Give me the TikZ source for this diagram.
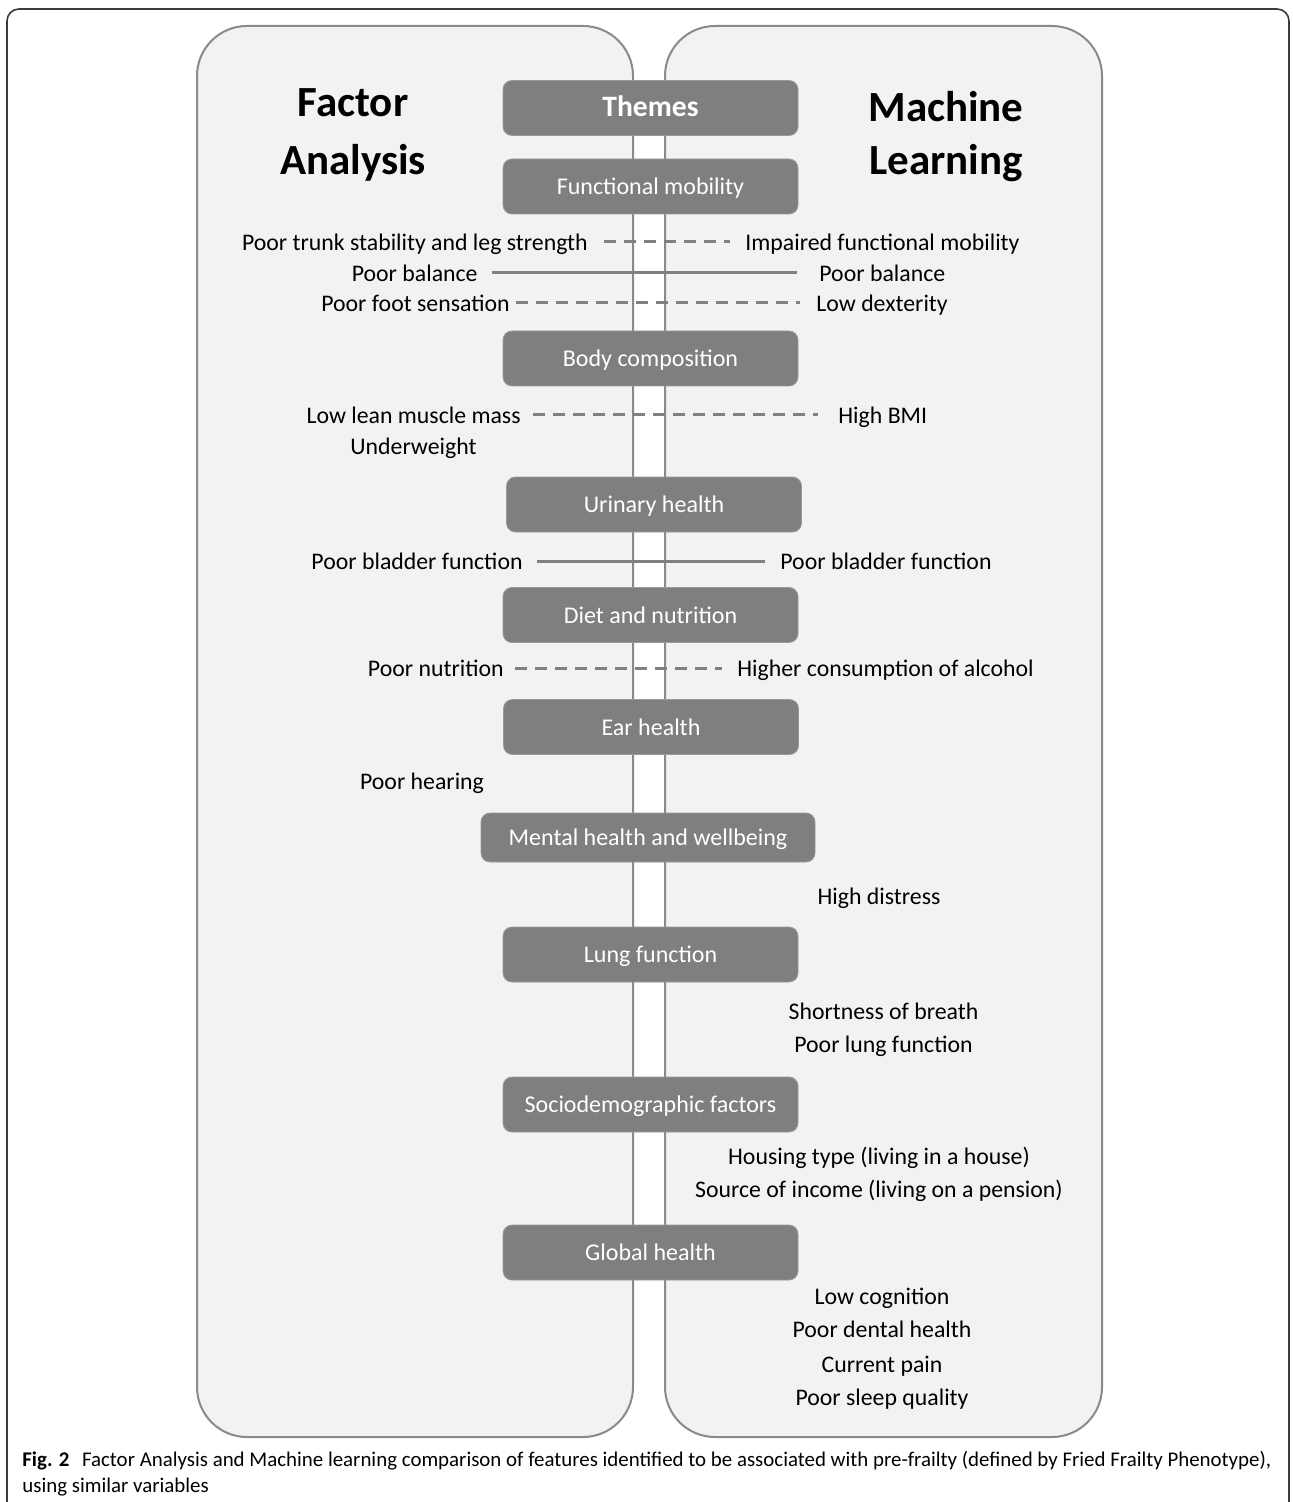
\documentclass[tikz,border=0pt]{standalone}
\usepackage{fontspec}
\setmainfont{Carlito}
\begin{document}
\begin{tikzpicture}[x=0.5pt,y=-0.5pt,
  panel/.style={draw=panelrule,fill=panelfill,line width=1pt,rounded corners=25pt},
  theme/.style={draw=boxrule,fill=boxfill,line width=0.4pt,rounded corners=4.5pt,
    text=white,font=\fontsize{12pt}{14pt}\selectfont,
    minimum width=147.5pt,minimum height=27.5pt,inner sep=0pt,
    text height=1em,text depth=0.16em},
  heading/.style={font=\fontsize{21.5pt}{24pt}\selectfont\bfseries,inner sep=0pt,anchor=mid},
  item/.style={font=\fontsize{11.9pt}{14pt}\selectfont,inner sep=0pt,
    text height=1em,text depth=0.16em},
  itemL/.style={item,anchor=east},
  itemR/.style={item,anchor=west},
  itemC/.style={item,anchor=center},
  link/.style={draw=linkgray,line width=1.5pt},
  dashlink/.style={link,dash pattern=on 6pt off 4pt},
]
\definecolor{panelfill}{HTML}{F2F2F2}
\definecolor{panelrule}{HTML}{8A8A8A}
\definecolor{boxfill}{HTML}{7F7F7F}
\definecolor{boxrule}{HTML}{9A9A9A}
\definecolor{linkgray}{HTML}{808080}
\definecolor{framerule}{HTML}{3A3A3A}

\useasboundingbox (0,0) rectangle (1292,1502);
\fill[white] (0,0) rectangle (1292,1502);

% outer frame of the figure
\draw[framerule,line width=0.8pt,rounded corners=6pt]
  (7,1502) -- (7,9) -- (1289,9) -- (1289,1502);

% the two side panels
\draw[panel] (197,26) rectangle (633,1437);
\draw[panel] (665,26) rectangle (1102,1437);

% panel headings
\node[heading] (fa1) at (353,112) {Factor};
\node[heading] (fa2) at (353,170) {Analysis};
\node[heading] (ml1) at (946,117) {Machine};
\node[heading] (ml2) at (946,170) {Learning};

% theme boxes down the middle
\node[theme,font=\fontsize{14.8pt}{16pt}\selectfont\bfseries] (themes) at (650.5,108) {Themes};
\node[theme] (fm) at (650.5,186.5) {Functional mobility};
\node[theme] (bc) at (650.5,358.5) {Body composition};
\node[theme] (uh) at (654,504.5) {Urinary health};
\node[theme] (dn) at (650.5,615) {Diet and nutrition};
\node[theme] (eh) at (651,727) {Ear health};
\node[theme,minimum width=167pt,minimum height=24.5pt] (mh) at (648,837.5) {Mental health and wellbeing};
\node[theme] (lf) at (650.5,954.5) {Lung function};
\node[theme] (sd) at (650.5,1104.5) {Sociodemographic factors};
\node[theme] (gh) at (650.5,1252.5) {Global health};

% functional mobility
\node[itemL] (fa-trunk) at (588,242) {Poor trunk stability and leg strength};
\node[itemR] (ml-mob) at (745,242) {Impaired functional mobility};
\node[itemL] (fa-bal) at (478,273) {Poor balance};
\node[itemR] (ml-bal) at (819,273) {Poor balance};
\node[itemL] (fa-foot) at (510,303) {Poor foot sensation};
\node[itemR] (ml-dex) at (816,303) {Low dexterity};
\draw[dashlink,shorten <=8pt,shorten >=7.5pt] (fa-trunk.east) -- (ml-mob.west);
\draw[link,shorten <=7pt,shorten >=11pt] (fa-bal.east) -- (ml-bal.west);
\draw[dashlink,shorten <=3pt,shorten >=8pt] (fa-foot.east) -- (ml-dex.west);

% body composition
\node[itemL] (fa-lean) at (521,415) {Low lean muscle mass};
\node[itemR] (ml-bmi) at (838,415) {High BMI};
\node[itemC] (fa-under) at (413.5,446) {Underweight};
\draw[dashlink,shorten <=6pt,shorten >=10pt] (fa-lean.east) -- (ml-bmi.west);

% urinary health
\node[itemL] (fa-blad) at (523,561) {Poor bladder function};
\node[itemR] (ml-blad) at (780,561) {Poor bladder function};
\draw[link,shorten <=7pt,shorten >=7.5pt] (fa-blad.east) -- (ml-blad.west);

% diet and nutrition
\node[itemL] (fa-nutr) at (504,668) {Poor nutrition};
\node[itemR] (ml-alc) at (737,668) {Higher consumption of alcohol};
\draw[dashlink,shorten <=5.5pt,shorten >=7.5pt] (fa-nutr.east) -- (ml-alc.west);

% ear health
\node[itemC] (fa-hear) at (422,781) {Poor hearing};

% mental health and wellbeing
\node[itemC] (ml-dist) at (879,896) {High distress};

% lung function
\node[itemC] (ml-breath) at (883.5,1011) {Shortness of breath};
\node[itemC] (ml-lung) at (883.5,1044) {Poor lung function};

% sociodemographic factors
\node[itemC] (ml-house) at (879,1156) {Housing type (living in a house)};
\node[itemC] (ml-income) at (879,1189) {Source of income (living on a pension)};

% global health
\node[itemC] (ml-cog) at (882,1296) {Low cognition};
\node[itemC] (ml-dent) at (882,1329) {Poor dental health};
\node[itemC] (ml-pain) at (882,1364) {Current pain};
\node[itemC] (ml-sleep) at (882,1397) {Poor sleep quality};

% caption
\node[anchor=base west,inner sep=0pt,font=\fontsize{10.45pt}{12pt}\selectfont] (cap1) at (22,1466)
  {\textbf{Fig. 2}\hspace{0.6em}Factor Analysis and Machine learning comparison of features identified to be associated with pre-frailty (defined by Fried Frailty Phenotype),};
\node[anchor=base west,inner sep=0pt,font=\fontsize{10.45pt}{12pt}\selectfont] (cap2) at (22,1492)
  {using similar variables};
\end{tikzpicture}
\end{document}
